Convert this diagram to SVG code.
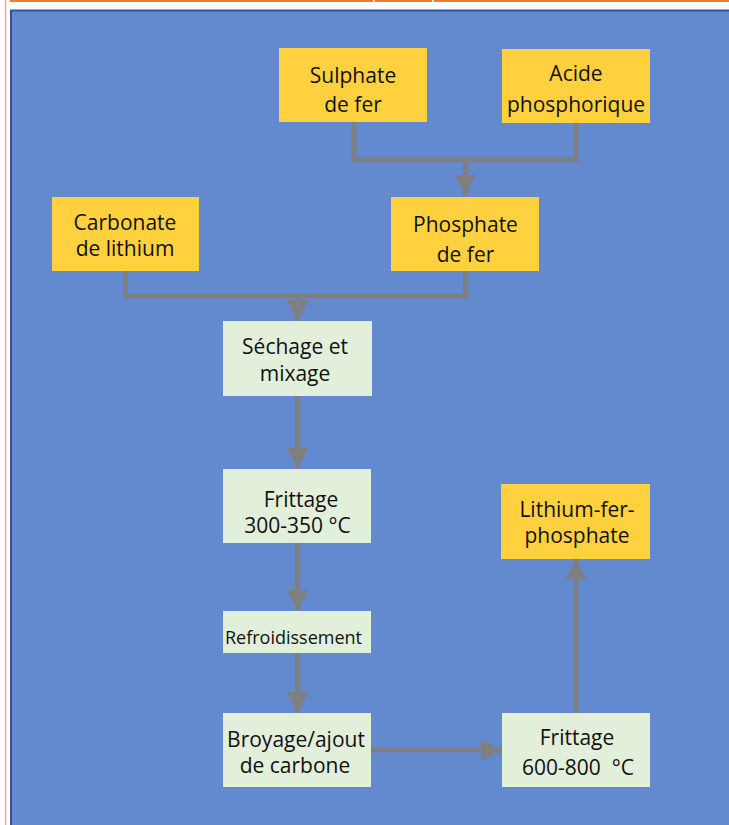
<svg xmlns="http://www.w3.org/2000/svg" width="729" height="825" viewBox="0 0 729 825">
<style>
  .y { fill: #FFD13F; }
  .g { fill: #E2EFDA; }
  text { font-family: "Open Sans", "Noto Sans", sans-serif; font-size: 21px; fill: #111111; text-anchor: middle; }
  .small { font-size: 18px; }
  .conn { fill: none; stroke: #7F7F7F; stroke-width: 4.5; }
</style>
<defs>
  <marker id="ah" viewBox="0 0 21 21" refX="21" refY="10.5" markerWidth="21" markerHeight="21" markerUnits="userSpaceOnUse" orient="auto">
    <path d="M0,0 L21,10.5 L0,21 Z" fill="#7F7F7F"/>
  </marker>
</defs>
<rect x="0" y="0" width="729" height="825" fill="#FFFFFF"/>
<g id="frame">
  <line x1="5.6" y1="0" x2="5.6" y2="825" stroke="#F4B183" stroke-width="1.6"/>
  <rect x="10" y="0" width="719" height="2" fill="#ED7D31"/>
  <rect x="373" y="0" width="1.5" height="2" fill="#FFFFFF"/>
  <rect x="432" y="0" width="1.5" height="2" fill="#FFFFFF"/>
  <rect x="11" y="10.5" width="730" height="830" fill="#6389CE" stroke="#2F5597" stroke-width="2"/>
</g>
<g id="connectors">
  <path class="conn" d="M354,122 V159.5 H576 V123"/>
  <path class="conn" d="M465.5,159.5 V196" marker-end="url(#ah)"/>
  <path class="conn" d="M125.5,271 V296 H465.5 V271"/>
  <path class="conn" d="M297.5,296 V321" marker-end="url(#ah)"/>
  <path class="conn" d="M297.5,396 V469" marker-end="url(#ah)"/>
  <path class="conn" d="M297.5,543 V611" marker-end="url(#ah)"/>
  <path class="conn" d="M297.5,653 V713" marker-end="url(#ah)"/>
  <path class="conn" d="M371,750 H502" marker-end="url(#ah)"/>
  <path class="conn" d="M576,713 V559" marker-end="url(#ah)"/>
</g>
<g id="sulphate">
  <rect class="y" x="279" y="48" width="148" height="74"/>
  <text x="353" y="83">Sulphate</text>
  <text x="353" y="112">de fer</text>
</g>
<g id="acide">
  <rect class="y" x="502" y="49" width="148" height="74"/>
  <text x="576" y="81">Acide</text>
  <text x="576" y="112">phosphorique</text>
</g>
<g id="carbonate">
  <rect class="y" x="52" y="197" width="147" height="74"/>
  <text x="125" y="230">Carbonate</text>
  <text x="125" y="256">de lithium</text>
</g>
<g id="phosphate">
  <rect class="y" x="391" y="197" width="148" height="74"/>
  <text x="465.5" y="232">Phosphate</text>
  <text x="465.5" y="262">de fer</text>
</g>
<g id="sechage">
  <rect class="g" x="223" y="321" width="149" height="75"/>
  <text x="295" y="354">Séchage et</text>
  <text x="295" y="381">mixage</text>
</g>
<g id="frittage1">
  <rect class="g" x="223" y="469" width="148" height="74"/>
  <text x="301" y="507">Frittage</text>
  <text x="297.5" y="533">300-350 °C</text>
</g>
<g id="refroidissement">
  <rect class="g" x="223" y="611" width="148" height="42"/>
  <text class="small" x="293.5" y="644">Refroidissement</text>
</g>
<g id="broyage">
  <rect class="g" x="223" y="713" width="148" height="74"/>
  <text x="296" y="747">Broyage/ajout</text>
  <text x="295" y="773">de carbone</text>
</g>
<g id="lithium">
  <rect class="y" x="501" y="484" width="149" height="75"/>
  <text x="577" y="517">Lithium-fer-</text>
  <text x="577" y="543">phosphate</text>
</g>
<g id="frittage2">
  <rect class="g" x="502" y="713" width="148" height="74"/>
  <text x="577" y="745">Frittage</text>
  <text x="578" y="775">600-800&#160; °C</text>
</g>
</svg>
